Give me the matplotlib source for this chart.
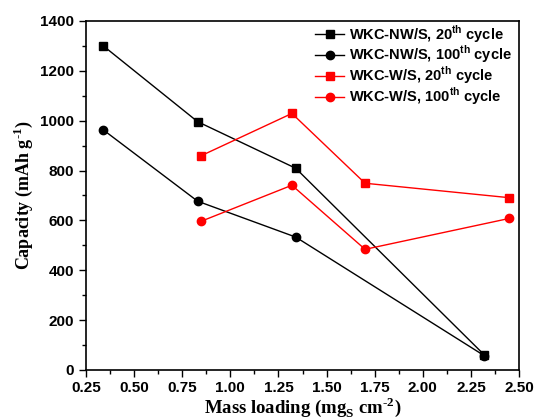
import matplotlib
matplotlib.use("Agg")
import matplotlib.pyplot as plt
from matplotlib.ticker import MultipleLocator, FormatStrFormatter

plt.rcParams['font.family'] = ['Liberation Sans', 'DejaVu Sans']
plt.rcParams['font.weight'] = 'bold'
plt.rcParams['mathtext.fontset'] = 'custom'
plt.rcParams['mathtext.rm'] = 'Liberation Serif:bold'
plt.rcParams['mathtext.sf'] = 'Liberation Sans:bold'

# WKC-NW/S
nw_x = [0.34, 0.83, 1.34, 2.32]
nw_20 = [1300, 996, 809, 60]
nw_100 = [963, 677, 533, 57]
# WKC-W/S
w_x = [0.85, 1.32, 1.70, 2.45]
w_20 = [860, 1029, 749, 691]
w_100 = [597, 741, 484, 608]

fig = plt.figure(figsize=(5.34, 4.19), dpi=100)
ax = fig.add_axes([0.161, 0.117, 0.811, 0.833])

ax.plot(nw_x, nw_20, '-s', color='black', lw=1, ms=5.5, label=r'WKC-NW/S, 20$^{\mathsf{th}}$ cycle')
ax.plot(nw_x, nw_100, '-o', color='black', lw=1, ms=6, label=r'WKC-NW/S, 100$^{\mathsf{th}}$ cycle')
ax.plot(w_x, w_20, '-s', color='red', lw=1, ms=5.5, label=r'WKC-W/S, 20$^{\mathsf{th}}$ cycle')
ax.plot(w_x, w_100, '-o', color='red', lw=1, ms=6, label=r'WKC-W/S, 100$^{\mathsf{th}}$ cycle')

ax.set_xlim(0.25, 2.5)
ax.set_ylim(0, 1400)
ax.xaxis.set_major_locator(MultipleLocator(0.25))
ax.xaxis.set_minor_locator(MultipleLocator(0.125))
ax.yaxis.set_major_locator(MultipleLocator(200))
ax.yaxis.set_minor_locator(MultipleLocator(100))
ax.xaxis.set_major_formatter(FormatStrFormatter('%.2f'))
ax.tick_params(which='major', direction='out', length=5, width=1, labelsize=11)
ax.tick_params(axis='x', pad=3)
ax.tick_params(which='minor', direction='out', length=3, width=1)
for s in ax.spines.values():
    s.set_linewidth(1.2)

ax.set_xlabel('Mass loading (mg$_{\\mathrm{S}}$ cm$^{\\mathrm{\u2010 2}}$)', family='Liberation Serif',
              fontsize=13.5, fontweight='bold', labelpad=0)
ax.set_ylabel('Capacity (mAh g$^{\\mathrm{\u2010 1}}$)', family='Liberation Serif',
              fontsize=13, fontweight='bold', labelpad=4)

ax.legend(loc='upper right', bbox_to_anchor=(1.0, 1.015), frameon=False, fontsize=10.5,
          handlelength=2.0, handletextpad=0.3, labelspacing=-0.05, borderaxespad=0.1)

fig.savefig('out.png', dpi=100)
